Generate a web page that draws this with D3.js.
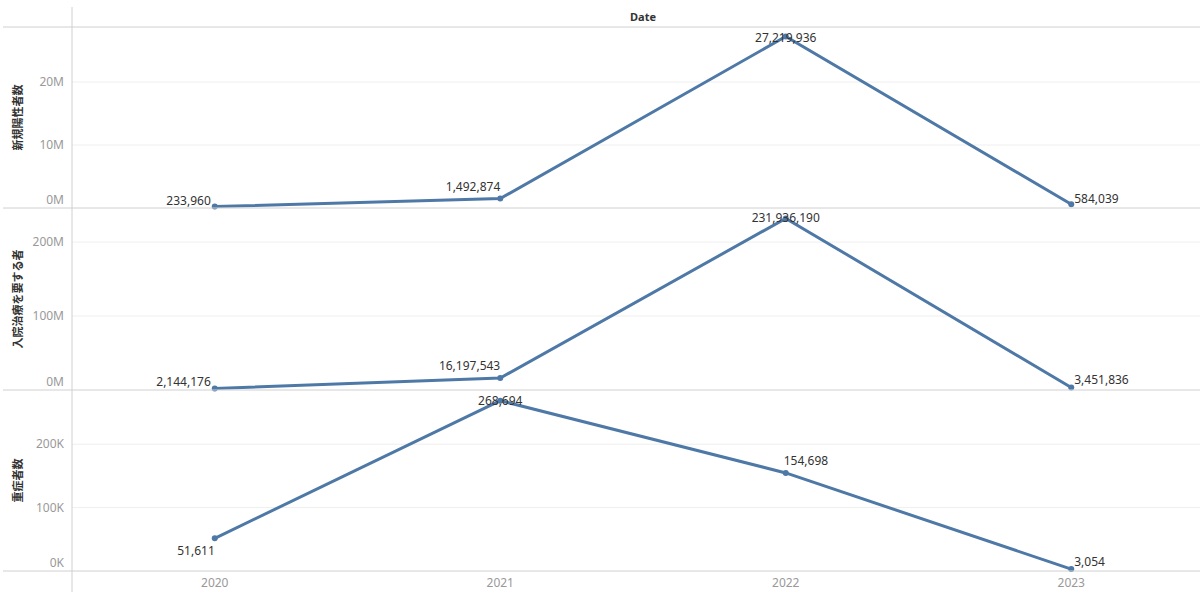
<!DOCTYPE html>
<html><head><meta charset="utf-8">
<script src="https://cdn.jsdelivr.net/npm/d3@7"></script>
<style>
html,body{margin:0;padding:0;background:#fff;}
svg{display:block;font-family:"Noto Sans","Noto Sans CJK JP",sans-serif;}
</style></head>
<body><svg id="chart" width="1200" height="598"></svg>
<script>
// ---- data ----
const years = ["2020", "2021", "2022", "2023"];
const newPositives = [233960, 1492874, 27219936, 584039];   // 新規陽性者数
const hospitalized = [2144176, 16197543, 231936190, 3451836]; // 入院治療を要する者
const severe = [51611, 268694, 154698, 3054];                 // 重症者数
const measureNames = ["新規陽性者数", "入院治療を要する者", "重症者数"];
const ticks1 = [0, 10000000, 20000000];
const ticks2 = [0, 100000000, 200000000];
const ticks3 = [0, 100000, 200000];
const tickLabels1 = ["0M", "10M", "20M"];
const tickLabels2 = ["0M", "100M", "200M"];
const tickLabels3 = ["0K", "100K", "200K"];
const headerLabel = "Date";

// ---- layout ----
const svg = d3.select("#chart");
const W = 1200;
const leftX = 72;
const lineColor = "#4e79a7";
const panels = [
  {values: newPositives, ticks: ticks1, labels: tickLabels1, top: 27, bottom: 208, max: 28730000,
   place: [["end",-4,-2],["end",0,-8],["middle",0,5],["start",3,-1]]},
  {values: hospitalized, ticks: ticks2, labels: tickLabels2, top: 208, bottom: 390, max: 246000000,
   place: [["end",-4,-2],["end",0,-8],["middle",0,4],["start",3,-3]]},
  {values: severe, ticks: ticks3, labels: tickLabels3, top: 390, bottom: 571, max: 285500,
   place: [["end",0,17],["middle",0,4],["start",-2,-8],["start",3,-3]]}
];

const x = d3.scalePoint().domain(years).range([leftX, 1214]).padding(0.5);
const fmt = d3.format(",");

// header
svg.append("text").attr("x", (leftX + 1214) / 2).attr("y", 21)
  .attr("text-anchor", "middle").attr("font-size", 11).attr("font-weight", "bold")
  .attr("fill", "#333").text(headerLabel);

panels.forEach((p, i) => {
  const y = d3.scaleLinear().domain([0, p.max]).range([p.bottom, p.top]);
  const g = svg.append("g");
  // gridlines
  g.selectAll("line.grid").data(p.ticks.filter(t => t > 0)).join("line")
    .attr("x1", leftX).attr("x2", W).attr("y1", d => y(d)).attr("y2", d => y(d))
    .attr("stroke", "#efefef").attr("stroke-width", 1);
  // tick labels
  g.selectAll("text.tick").data(p.ticks).join("text")
    .attr("x", 64).attr("y", (d) => y(d) + (d === 0 ? -8 : 0))
    .attr("dy", "0.35em").attr("text-anchor", "end")
    .attr("font-size", 12).attr("fill", "#999")
    .text((d, k) => p.labels[k]);
  // axis title
  const cy = (p.top + p.bottom) / 2;
  g.append("text").attr("transform", `translate(22,${cy}) rotate(-90)`)
    .attr("text-anchor", "middle").attr("font-size", 11).attr("font-weight", "bold")
    .attr("fill", "#333").text(measureNames[i]);
  // line
  const line = d3.line().x((d, k) => x(years[k])).y(d => y(d));
  g.append("path").datum(p.values).attr("d", line)
    .attr("fill", "none").attr("stroke", lineColor).attr("stroke-width", 3)
    .attr("stroke-linejoin", "miter");
  g.selectAll("circle").data(p.values).join("circle")
    .attr("cx", (d, k) => x(years[k])).attr("cy", d => y(d)).attr("r", 3)
    .attr("fill", lineColor);
  // labels
  g.selectAll("text.lbl").data(p.values).join("text")
    .attr("x", (d, k) => x(years[k]) + p.place[k][1])
    .attr("y", (d, k) => y(d) + p.place[k][2])
    .attr("text-anchor", (d, k) => p.place[k][0])
    .attr("font-size", 12).attr("fill", "#333")
    .text(d => fmt(d));
});

// separators
[27, 208, 390, 571].forEach(yy => {
  svg.append("line").attr("x1", 3).attr("x2", W).attr("y1", yy).attr("y2", yy)
    .attr("stroke", "#d0d0d0").attr("stroke-width", 1);
});
svg.append("line").attr("x1", leftX).attr("x2", leftX).attr("y1", 7).attr("y2", 592)
  .attr("stroke", "#d0d0d0").attr("stroke-width", 1);

// x axis labels
svg.selectAll("text.xl").data(years).join("text")
  .attr("x", d => x(d)).attr("y", 583).attr("dy", "0.35em")
  .attr("text-anchor", "middle").attr("font-size", 12).attr("fill", "#999")
  .text(d => d);
</script></body></html>
